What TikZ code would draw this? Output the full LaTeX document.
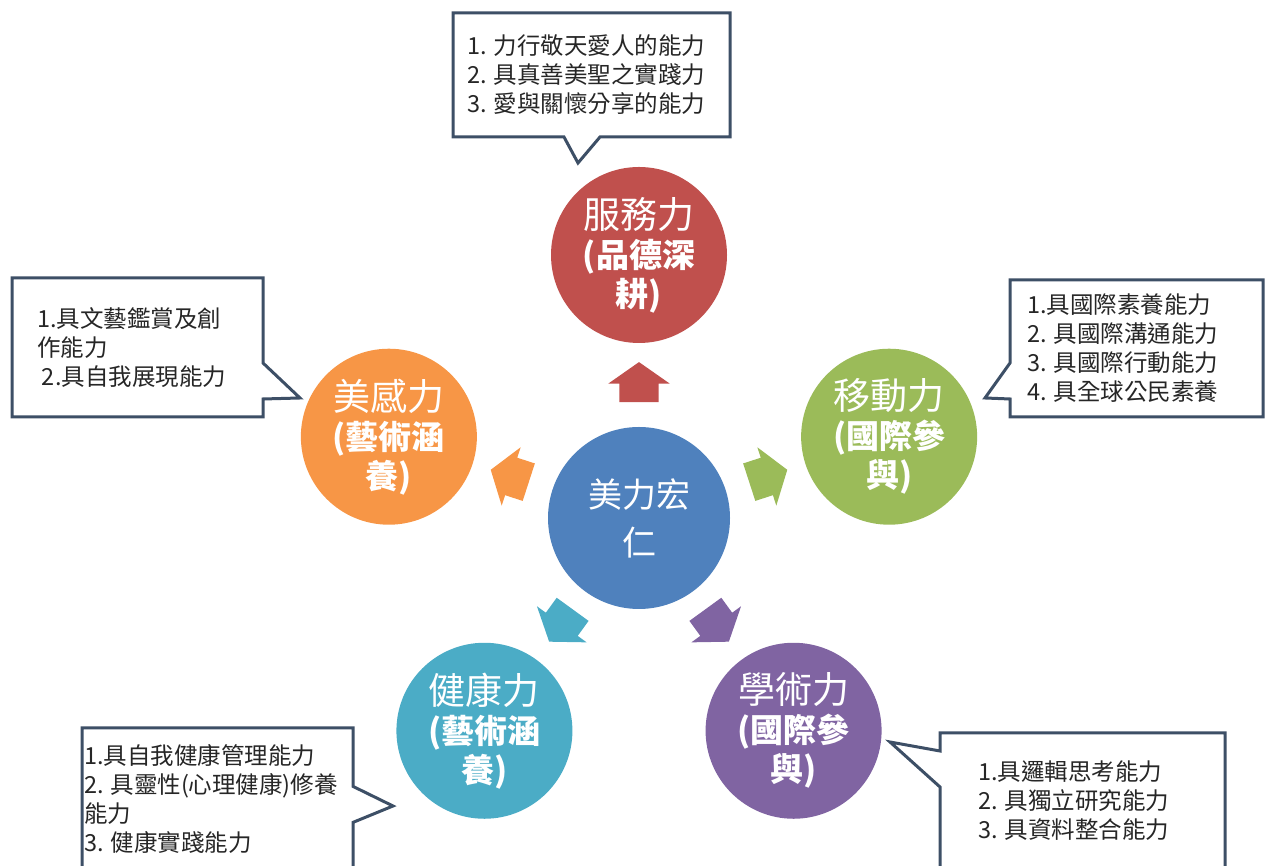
\documentclass[tikz,border=0pt]{standalone}
\usepackage{fontspec}
\setmainfont{Noto Sans CJK TC}
\usepackage{xcolor}
\usepackage{tikz}
\usetikzlibrary{positioning,calc,shapes.arrows,shapes.callouts}

\definecolor{hubblue}{HTML}{4F81BD}
\definecolor{srvred}{HTML}{C0504D}
\definecolor{artorange}{HTML}{F79646}
\definecolor{mobgreen}{HTML}{9BBB59}
\definecolor{hlthteal}{HTML}{4BACC6}
\definecolor{acadpurple}{HTML}{8064A2}
\definecolor{noteline}{HTML}{3D4F66}

\begin{document}
\begin{tikzpicture}[
  x=1pt, y=1pt,
  hub/.style={circle, fill=hubblue, text=white, minimum size=182, inner sep=0, align=center, font=\fontsize{34}{48}\selectfont},
  power/.style={circle, minimum size=176, inner sep=0, text=white, align=center, font=\fontsize{33}{39}\selectfont\bfseries},
  push/.style={single arrow, draw=none, inner xsep=0, inner ysep=19.5, minimum height=40, single arrow head extend=11, single arrow tip angle=110},
  note/.style={rectangle callout, draw=noteline, line width=3pt, fill=white, align=left, text=black!85, callout pointer width=36, inner ysep=0, font=\fontsize{23.5}{29}\selectfont}
]
\useasboundingbox (0,0) rectangle (1269,866);
\clip (0,0) rectangle (1269,866);

\node[hub] (hub) at (639,348) {美力宏\\仁};

\node[power, fill=srvred] (srv) at ($(hub)+(90:263)$) {{\fontsize{37}{39}\selectfont\mdseries 服務力}\\(品德深\\耕)};
\node[power, fill=mobgreen] (mob) at ($(hub)+(18:263)$) {{\fontsize{37}{39}\selectfont\mdseries 移動力}\\(國際參\\與)};
\node[power, fill=artorange] (art) at ($(hub)+(162:263)$) {{\fontsize{37}{39}\selectfont\mdseries 美感力}\\(藝術涵\\養)};
\node[power, fill=hlthteal] (hlth) at ($(hub)+(234:263)$) {{\fontsize{37}{39}\selectfont\mdseries 健康力}\\(藝術涵\\養)};
\node[power, fill=acadpurple] (acad) at ($(hub)+(306:263)$) {{\fontsize{37}{39}\selectfont\mdseries 學術力}\\(國際參\\與)};

\node[push, fill=srvred, rotate=90] (srvpush) at ($(hub)+(90:129)$) {};
\node[push, fill=mobgreen, rotate=18] (mobpush) at ($(hub)+(18:129)$) {};
\node[push, fill=artorange, rotate=162] (artpush) at ($(hub)+(162:129)$) {};
\node[push, fill=hlthteal, rotate=234] (hlthpush) at ($(hub)+(234:126)$) {};
\node[push, fill=acadpurple, rotate=306] (acadpush) at ($(hub)+(306:126)$) {};

\coordinate (srvtip) at (578,703);
\coordinate (arttip) at (300,468);
\coordinate (mobtip) at (985,468);
\coordinate (hlthtip) at (393,60);
\coordinate (acadtip) at (890,124);

\node[note, callout absolute pointer={(srvtip)}, minimum height=124, text width=249, inner xsep=14] (srvnote) at (591.5,791)
  {1.\hspace{7pt}力行敬天愛人的能力\\2.\hspace{7pt}具真善美聖之實踐力\\3.\hspace{7pt}愛與關懷分享的能力};
\node[note, callout absolute pointer={(arttip)}, minimum height=139, text width=201, inner xsep=25] (artnote) at (137.5,518.5)
  {1.具文藝鑑賞及創\\作能力\\\hspace*{5pt}2.具自我展現能力};
\node[note, callout absolute pointer={(mobtip)}, minimum height=137, text width=219, inner xsep=17] (mobnote) at (1136.5,517.5)
  {1.具國際素養能力\\2.\hspace{7pt}具國際溝通能力\\3.\hspace{7pt}具國際行動能力\\4.\hspace{7pt}具全球公民素養};
\node[note, callout absolute pointer={(hlthtip)}, minimum height=142, text width=267, inner xsep=2] (hlthnote) at (217.5,67)
  {1.具自我健康管理能力\\2.\hspace{7pt}具靈性(心理健康)修養\\能力\\3.\hspace{7pt}健康實踐能力};
\node[note, callout absolute pointer={(acadtip)}, minimum height=136, text width=209, inner xsep=38] (acadnote) at (1082.5,65)
  {1.具邏輯思考能力\\2.\hspace{7pt}具獨立研究能力\\3.\hspace{7pt}具資料整合能力};
\end{tikzpicture}
\end{document}
